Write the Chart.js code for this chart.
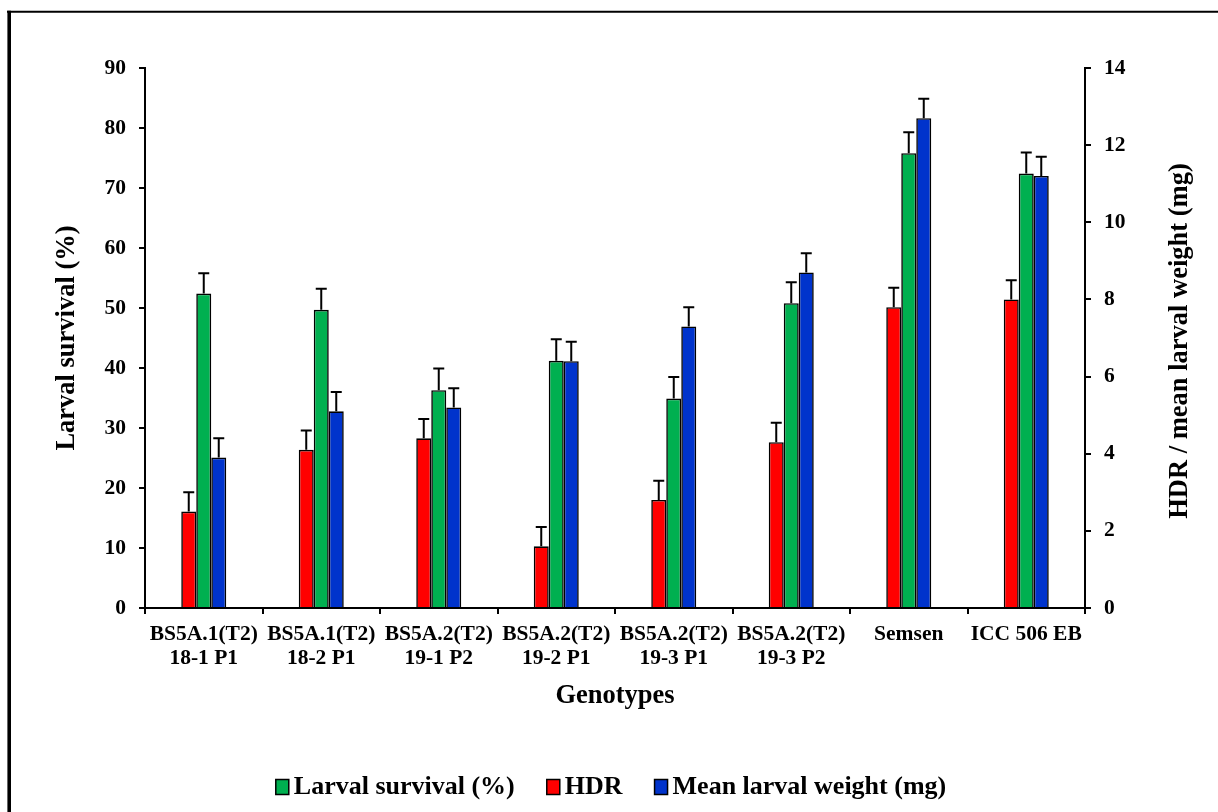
<!DOCTYPE html>
<html>
<head>
<meta charset="utf-8">
<script src="https://cdn.jsdelivr.net/npm/chart.js@4.4.1/dist/chart.umd.min.js"></script>
<style>
  html, body { margin: 0; padding: 0; background: #fff; }
  #wrap { width: 1218px; height: 812px; position: relative; }
</style>
</head>
<body>
<div id="wrap"><canvas id="c" width="1218" height="812"></canvas></div>
<script>
// Genotypes on the category axis
const genotypes = [
  ['BS5A.1(T2)', '18-1 P1'],
  ['BS5A.1(T2)', '18-2 P1'],
  ['BS5A.2(T2)', '19-1 P2'],
  ['BS5A.2(T2)', '19-2 P1'],
  ['BS5A.2(T2)', '19-3 P1'],
  ['BS5A.2(T2)', '19-3 P2'],
  'Semsen',
  'ICC 506 EB'
];

// HDR (right axis) with standard error
const hdr   = [2.5, 4.1, 4.4, 1.6, 2.8, 4.3, 7.8, 8.0];
const hdrSE = [0.5, 0.5, 0.5, 0.5, 0.5, 0.5, 0.5, 0.5];

// Larval survival in % (left axis) with standard error
const larvalSurvival   = [52.4, 49.7, 36.3, 41.2, 34.9, 50.8, 75.8, 72.4];
const larvalSurvivalSE = [3.4, 3.5, 3.6, 3.6, 3.6, 3.5, 3.5, 3.5];

// Mean larval weight in mg (right axis) with standard error
const larvalWeight   = [3.9, 5.1, 5.2, 6.4, 7.3, 8.7, 12.7, 11.2];
const larvalWeightSE = [0.5, 0.5, 0.5, 0.5, 0.5, 0.5, 0.5, 0.5];

// Axis tick values
const survivalTicks = [0, 10, 20, 30, 40, 50, 60, 70, 80, 90];
const weightTicks   = [0, 2, 4, 6, 8, 10, 12, 14];

const FONT = "'Liberation Serif', 'Times New Roman', serif";
const RED = '#FF0000', GREEN = '#00B050', BLUE = '#0033CC';

// Legend lists survival first, then HDR, then weight
const legendOrder = [1, 0, 2];

// Draws the upper error whisker with a cap on each bar
const errorBars = {
  id: 'errorBars',
  afterDatasetsDraw(chart) {
    const ctx = chart.ctx;
    chart.data.datasets.forEach((ds, i) => {
      const meta = chart.getDatasetMeta(i);
      const scale = chart.scales[ds.yAxisID];
      meta.data.forEach((bar, j) => {
        const top = scale.getPixelForValue(ds.data[j] + ds.errors[j]);
        ctx.save();
        ctx.strokeStyle = '#000';
        ctx.lineWidth = 2;
        ctx.beginPath();
        ctx.moveTo(bar.x, bar.y);
        ctx.lineTo(bar.x, top);
        ctx.moveTo(bar.x - 5.5, top);
        ctx.lineTo(bar.x + 5.5, top);
        ctx.stroke();
        ctx.restore();
      });
    });
  }
};

// Page frame, right-hand axis title and the legend row
const decorations = {
  id: 'decorations',
  beforeDraw(chart) {
    const ctx = chart.ctx;
    ctx.save();
    ctx.fillStyle = '#fff';
    ctx.fillRect(0, 0, chart.width, chart.height);
    ctx.strokeStyle = '#000';
    ctx.lineWidth = 2;
    ctx.beginPath();
    ctx.moveTo(7, 11.8);
    ctx.lineTo(chart.width, 11.8);
    ctx.stroke();
    ctx.lineWidth = 3.6;
    ctx.beginPath();
    ctx.moveTo(9.2, 10.8);
    ctx.lineTo(9.2, chart.height);
    ctx.stroke();
    ctx.restore();
  },
  afterDraw(chart) {
    const ctx = chart.ctx;
    const area = chart.chartArea;
    // right axis title, reading bottom to top
    ctx.save();
    ctx.translate(1180, (area.top + area.bottom) / 2 + 3);
    ctx.rotate(-Math.PI / 2);
    ctx.font = 'bold 26.5px ' + FONT;
    ctx.fillStyle = '#000';
    ctx.textAlign = 'center';
    ctx.textBaseline = 'middle';
    ctx.fillText('HDR / mean larval weight (mg)', 0, 0);
    ctx.restore();

    // legend
    ctx.save();
    ctx.font = 'bold 26px ' + FONT;
    const boxW = 13, boxH = 15, gap = 5, itemGap = 32, cy = 787;
    const items = legendOrder.map(i => chart.data.datasets[i]);
    let total = 0;
    items.forEach((ds, k) => {
      total += boxW + gap + ctx.measureText(ds.label).width;
      if (k < items.length - 1) total += itemGap;
    });
    let x = chart.width / 2 + 2 - total / 2;
    items.forEach(ds => {
      ctx.fillStyle = ds.backgroundColor;
      ctx.fillRect(x, cy - boxH / 2, boxW, boxH);
      ctx.strokeStyle = '#000';
      ctx.lineWidth = 1.5;
      ctx.strokeRect(x, cy - boxH / 2, boxW, boxH);
      x += boxW + gap;
      ctx.fillStyle = '#000';
      ctx.textAlign = 'left';
      ctx.textBaseline = 'middle';
      ctx.fillText(ds.label, x, cy);
      x += ctx.measureText(ds.label).width + itemGap;
    });
    ctx.restore();
  }
};

const tickFont = { family: FONT, size: 21.5, weight: 'bold', lineHeight: 1.12 };
const titleFont = { family: FONT, size: 26.5, weight: 'bold', lineHeight: 1.2 };

new Chart(document.getElementById('c'), {
  type: 'bar',
  data: {
    labels: genotypes,
    datasets: [
      { label: 'HDR', data: hdr, errors: hdrSE, yAxisID: 'y1',
        backgroundColor: RED, borderColor: '#000', borderWidth: 1.6 },
      { label: 'Larval survival (%)', data: larvalSurvival, errors: larvalSurvivalSE, yAxisID: 'y',
        backgroundColor: GREEN, borderColor: '#000', borderWidth: 1.6 },
      { label: 'Mean larval weight (mg)', data: larvalWeight, errors: larvalWeightSE, yAxisID: 'y1',
        backgroundColor: BLUE, borderColor: '#000', borderWidth: 1.6 }
    ]
  },
  options: {
    responsive: false,
    animation: false,
    devicePixelRatio: 1,
    datasets: { bar: { categoryPercentage: 0.383, barPercentage: 1.0 } },
    layout: { padding: { top: 68, left: 51.1, right: 22.4, bottom: 100.1 } },
    plugins: {
      legend: { display: false },
      tooltip: { enabled: false }
    },
    scales: {
      x: {
        type: 'category',
        offset: true,
        grid: { display: true, drawOnChartArea: false, drawTicks: true, tickLength: 6,
                color: '#000', lineWidth: 2, offset: true },
        border: { display: true, color: '#000', width: 2 },
        ticks: { font: tickFont, color: '#000', maxRotation: 0, minRotation: 0, padding: 8.5, autoSkip: false },
        title: { display: true, text: 'Genotypes', font: titleFont, color: '#000', padding: { top: 0, bottom: 0 } },
        afterFit(s) { s.height = 103.9; }
      },
      y: {
        position: 'left',
        min: 0, max: 90,
        afterBuildTicks(s) { s.ticks = survivalTicks.map(v => ({ value: v })); },
        grid: { display: true, drawOnChartArea: false, drawTicks: true, tickLength: 6,
                color: '#000', lineWidth: 2 },
        border: { display: true, color: '#000', width: 2 },
        ticks: { font: tickFont, color: '#000', padding: 13 },
        title: { display: true, text: 'Larval survival (%)', font: titleFont, color: '#000', padding: { top: 0, bottom: 0 } },
        afterFit(s) { s.width = 93.9; }
      },
      y1: {
        position: 'right',
        min: 0, max: 14,
        afterBuildTicks(s) { s.ticks = weightTicks.map(v => ({ value: v })); },
        grid: { display: true, drawOnChartArea: false, drawTicks: true, tickLength: 6,
                color: '#000', lineWidth: 2 },
        border: { display: true, color: '#000', width: 2 },
        ticks: { font: tickFont, color: '#000', padding: 13 },
        title: { display: false },
        afterFit(s) { s.width = 110.6; }
      }
    }
  },
  plugins: [decorations, errorBars]
});
</script>
</body>
</html>
